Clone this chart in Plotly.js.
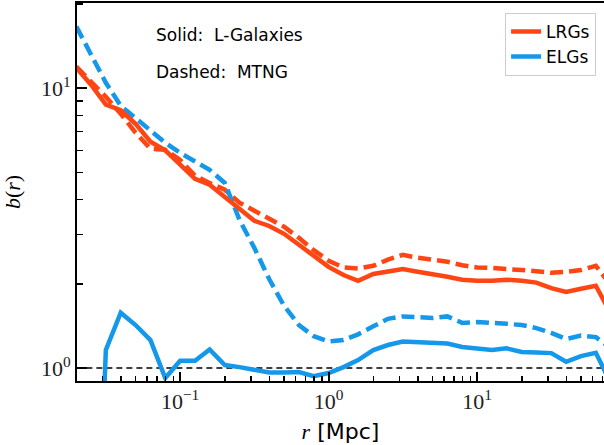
<!DOCTYPE html>
<html>
<head>
<meta charset="utf-8">
<script src="https://cdn.plot.ly/plotly-3.0.1.min.js"></script>
<style>html,body{margin:0;padding:0;background:#fff;}#plot{width:604px;height:445px;}</style>
</head>
<body>
<div id="plot"></div>
<script>
// separation r [Mpc]
const r = [0.02, 0.0251, 0.0316, 0.0398, 0.0501, 0.0631, 0.0794, 0.1, 0.126, 0.158,
           0.2, 0.251, 0.316, 0.398, 0.501, 0.631, 0.794, 1.0, 1.26, 1.58,
           2.0, 2.51, 3.16, 3.98, 5.01, 6.31, 7.94, 10.0, 12.6, 15.8,
           20.0, 25.1, 31.6, 39.8, 50.1, 63.1, 79.4];

// LRGs, L-Galaxies (solid)
const lrgLGal = [11.85, 10.30, 8.74, 8.35, 7.47, 6.44, 6.00, 5.37, 4.75, 4.52,
                 4.09, 3.74, 3.36, 3.22, 3.02, 2.76, 2.52, 2.30, 2.15, 2.05,
                 2.17, 2.21, 2.26, 2.21, 2.17, 2.12, 2.07, 2.05, 2.05, 2.07,
                 2.05, 2.02, 1.93, 1.87, 1.92, 1.97, 1.57];
// LRGs, MTNG (dashed)
const lrgMTNG = [11.95, 10.56, 9.33, 8.11, 6.94, 6.08, 6.03, 5.55, 4.87, 4.59,
                 4.34, 3.90, 3.65, 3.41, 3.20, 2.92, 2.64, 2.42, 2.29, 2.27,
                 2.32, 2.44, 2.54, 2.48, 2.44, 2.40, 2.33, 2.29, 2.28, 2.25,
                 2.24, 2.22, 2.19, 2.21, 2.24, 2.32, 1.98];
// ELGs, L-Galaxies (solid)
const elgLGal = [null, 0.05, 1.16, 1.578, 1.425, 1.259, 0.921, 1.062, 1.062, 1.166,
                 1.025, 1.008, 0.984, 0.964, 0.964, 0.968, 0.936, 0.96, 1.008, 1.068,
                 1.16, 1.209, 1.244, 1.239, 1.229, 1.224, 1.189, 1.176, 1.16, 1.176,
                 1.141, 1.136, 1.131, 1.053, 1.104, 1.134, 0.884];
// ELGs, MTNG (dashed)
const elgMTNG = [16.62, 13.19, 10.47, 8.66, 7.85, 7.05, 6.39, 5.88, 5.46, 5.11,
                 4.59, 3.39, 2.69, 2.08, 1.67, 1.425, 1.30, 1.244, 1.26, 1.32,
                 1.41, 1.50, 1.53, 1.52, 1.51, 1.53, 1.45, 1.46, 1.455, 1.44,
                 1.425, 1.39, 1.335, 1.27, 1.307, 1.29, 1.18];

const xTickVals = [0.1, 1, 10];
const xTickText = ['10<sup>−1</sup>', '10<sup>0</sup>', '10<sup>1</sup>'];
const yTickVals = [1, 10];
const yTickText = ['10<sup>0</sup>', '10<sup>1</sup>'];
const xMinor = [0.03, 0.04, 0.05, 0.06, 0.07, 0.08, 0.09, 0.2, 0.3, 0.4, 0.5, 0.6, 0.7, 0.8, 0.9,
                2, 3, 4, 5, 6, 7, 8, 9, 20, 30, 40, 50, 60, 70];
const yMinor = [2, 3, 4, 5, 6, 7, 8, 9, 20];

const RED = '#FF4513';
const BLUE = '#1598EA';
const LW = 4.5;
const DASH = '13px,6px';

const traces = [
  {x: [r[0], r[r.length-1]], y: [1, 1], mode: 'lines', showlegend: false,
   line: {color: '#000', width: 1.5, dash: '6px,4px'}, hoverinfo: 'skip'},
  {x: r, y: lrgMTNG, mode: 'lines', showlegend: false,
   line: {color: RED, width: LW, dash: DASH}},
  {x: r, y: elgMTNG, mode: 'lines', showlegend: false,
   line: {color: BLUE, width: LW, dash: DASH}},
  {x: r, y: lrgLGal, mode: 'lines', name: 'LRGs',
   line: {color: RED, width: LW}},
  {x: r, y: elgLGal, mode: 'lines', name: 'ELGs', connectgaps: false,
   line: {color: BLUE, width: LW}}
];

const serif = 'Liberation Serif, DejaVu Serif, serif';
const sans = 'DejaVu Sans, sans-serif';

const layout = {
  width: 604, height: 445,
  margin: {l: 77, r: 0, t: 3, b: 64},
  paper_bgcolor: '#fff', plot_bgcolor: '#fff',
  showlegend: true,
  legend: {
    x: 0.985, y: 0.974, xanchor: 'right', yanchor: 'top',
    bordercolor: '#cccccc', borderwidth: 1, bgcolor: 'rgba(255,255,255,0.8)',
    font: {family: sans, size: 17, color: '#000'},
    tracegroupgap: 0
  },
  xaxis: {
    type: 'log', range: [Math.log10(0.0202), 1.855],
    showgrid: false, zeroline: false,
    showline: true, linecolor: '#000', linewidth: 2, mirror: true,
    ticks: 'inside', ticklen: 9, tickwidth: 2, tickcolor: '#000',
    tickmode: 'array', tickvals: xTickVals, ticktext: xTickText,
    tickfont: {family: serif, size: 22, color: '#222'},
    minor: {ticks: 'inside', ticklen: 5, tickwidth: 1.5, tickcolor: '#000',
            tickmode: 'array', tickvals: xMinor, showgrid: false},
    title: {text: '<span style="font-family:Liberation Serif"><i>r</i></span> [Mpc]',
            font: {family: sans, size: 22, color: '#000'}, standoff: 10}
  },
  yaxis: {
    type: 'log', range: [Math.log10(0.899), 1.305],
    showgrid: false, zeroline: false,
    showline: true, linecolor: '#000', linewidth: 2,
    ticks: 'inside', ticklen: 10, tickwidth: 2, tickcolor: '#000',
    tickmode: 'array', tickvals: yTickVals, ticktext: yTickText,
    tickfont: {family: serif, size: 22, color: '#222'},
    minor: {ticks: 'inside', ticklen: 6, tickwidth: 1.5, tickcolor: '#000',
            tickmode: 'array', tickvals: yMinor, showgrid: false},
    title: {text: '<i>b</i>(<i>r</i>)', font: {family: serif, size: 22, color: '#000'}, standoff: 14}
  },
  annotations: [
    {xref: 'paper', yref: 'paper', x: 0.146, y: 0.915, xanchor: 'left', yanchor: 'middle',
     text: 'Solid:  L-Galaxies', showarrow: false, font: {family: sans, size: 17, color: '#000'}},
    {xref: 'paper', yref: 'paper', x: 0.146, y: 0.8175, xanchor: 'left', yanchor: 'middle',
     text: 'Dashed:  MTNG', showarrow: false, font: {family: sans, size: 17, color: '#000'}}
  ]
};

Plotly.newPlot('plot', traces, layout, {displayModeBar: false, staticPlot: true});
</script>
</body>
</html>
